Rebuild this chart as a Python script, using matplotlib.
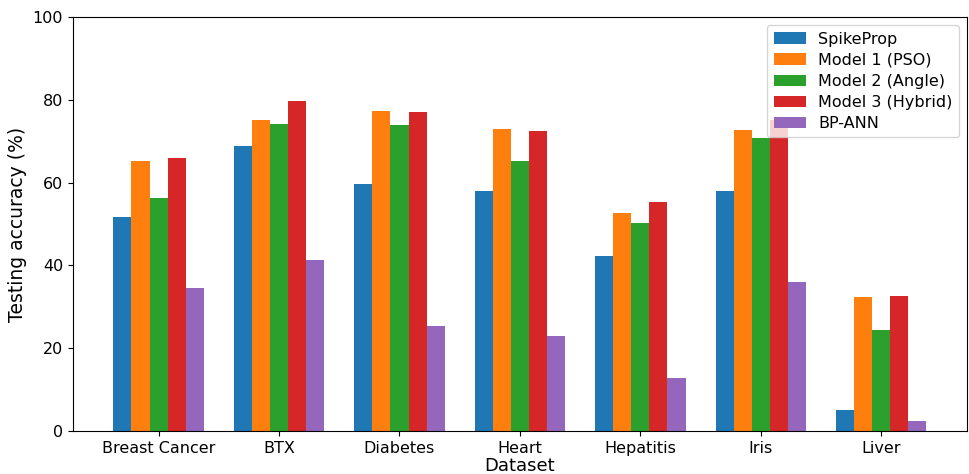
import numpy as np
import matplotlib
matplotlib.use('Agg')
import matplotlib.pyplot as plt

datasets = ['Breast Cancer', 'BTX', 'Diabetes', 'Heart', 'Hepatitis', 'Iris', 'Liver']
models = ['SpikeProp', 'Model 1 (PSO)', 'Model 2 (Angle)', 'Model 3 (Hybrid)', 'BP-ANN']

spikeprop = [51.7, 68.8, 59.7, 58.0, 42.2, 58.1, 5.0]
model1_pso = [65.2, 75.2, 77.4, 73.1, 52.8, 72.7, 32.3]
model2_angle = [56.2, 74.3, 73.9, 65.2, 50.2, 70.9, 24.5]
model3_hybrid = [66.0, 79.8, 77.0, 72.5, 55.4, 75.1, 32.6]
bp_ann = [34.5, 41.4, 25.4, 22.9, 12.8, 35.9, 2.3]

series = [spikeprop, model1_pso, model2_angle, model3_hybrid, bp_ann]

fig = plt.figure(figsize=(9.7, 4.74), dpi=100)
ax = fig.add_axes([0.075, 0.0907, 0.922, 0.873])

x = np.arange(len(datasets))
w = 0.15
for i, (vals, name) in enumerate(zip(series, models)):
    ax.bar(x + (i - 2) * w, vals, w, label=name)

ax.set_ylim(0, 100)
ax.set_xticks(x)
ax.set_xticklabels(datasets, fontsize=11.5)
ax.tick_params(axis='y', labelsize=11.5)
ax.set_xlabel('Dataset', fontsize=13, labelpad=1)
ax.set_ylabel('Testing accuracy (%)', fontsize=13.5)
ax.legend(loc='upper right', fontsize=11.5, labelspacing=0.38)

fig.savefig('out.png', dpi=100)
